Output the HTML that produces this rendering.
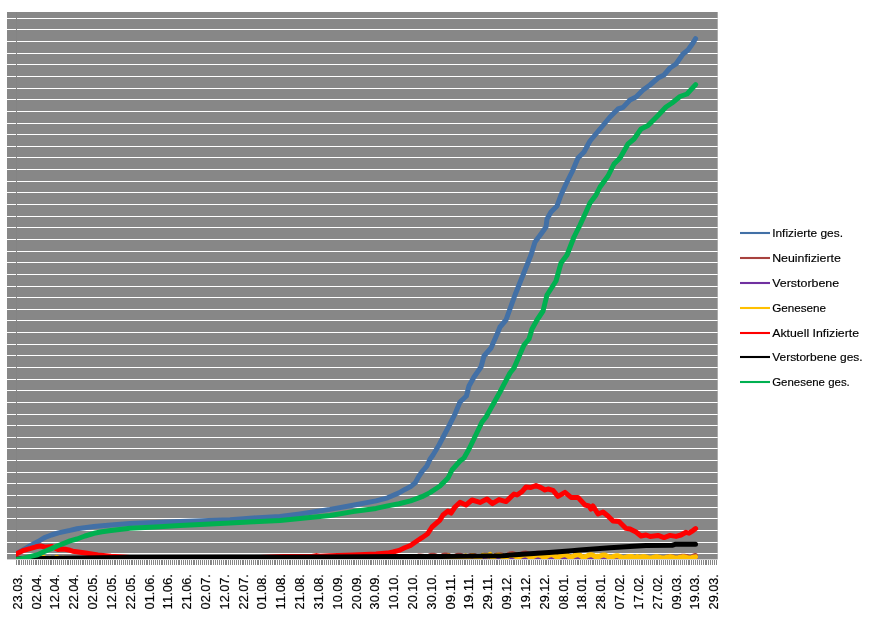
<!DOCTYPE html>
<html lang="de"><head><meta charset="utf-8"><title>Diagramm</title>
<style>html,body{margin:0;padding:0;background:#fff}body{width:870px;height:625px;overflow:hidden}</style></head>
<body>
<svg width="870" height="625" viewBox="0 0 870 625" style="display:block">
<rect width="870" height="625" fill="#fff"/>
<rect x="7" y="12" width="710.7" height="547.4" fill="#878787"/>
<path d="M7 18.50H717.7M7 29.50H717.7M7 41.50H717.7M7 53.50H717.7M7 64.50H717.7M7 76.50H717.7M7 88.50H717.7M7 99.50H717.7M7 111.50H717.7M7 123.50H717.7M7 134.50H717.7M7 146.50H717.7M7 157.50H717.7M7 169.50H717.7M7 181.50H717.7M7 192.50H717.7M7 204.50H717.7M7 216.50H717.7M7 227.50H717.7M7 239.50H717.7M7 251.50H717.7M7 262.50H717.7M7 274.50H717.7M7 286.50H717.7M7 297.50H717.7M7 309.50H717.7M7 320.50H717.7M7 332.50H717.7M7 344.50H717.7M7 355.50H717.7M7 367.50H717.7M7 379.50H717.7M7 390.50H717.7M7 402.50H717.7M7 414.50H717.7M7 425.50H717.7M7 437.50H717.7M7 448.50H717.7M7 460.50H717.7M7 472.50H717.7M7 483.50H717.7M7 495.50H717.7M7 507.50H717.7M7 518.50H717.7M7 530.50H717.7M7 542.50H717.7M7 553.50H717.7" stroke="#fff" stroke-width="1.1" fill="none"/>
<path d="M16.5 12V559" stroke="#848484" stroke-width="1" fill="none"/>
<path d="M16.5 560V565M18.5 560V565M19.5 560V565M21.5 560V565M23.5 560V565M25.5 560V565M27.5 560V565M29.5 560V565M31.5 560V565M33.5 560V565M35.5 560V565M36.5 560V565M38.5 560V565M40.5 560V565M42.5 560V565M44.5 560V565M46.5 560V565M48.5 560V565M50.5 560V565M51.5 560V565M53.5 560V565M55.5 560V565M57.5 560V565M59.5 560V565M61.5 560V565M63.5 560V565M65.5 560V565M67.5 560V565M68.5 560V565M70.5 560V565M72.5 560V565M74.5 560V565M76.5 560V565M78.5 560V565M80.5 560V565M82.5 560V565M83.5 560V565M85.5 560V565M87.5 560V565M89.5 560V565M91.5 560V565M93.5 560V565M95.5 560V565M97.5 560V565M99.5 560V565M100.5 560V565M102.5 560V565M104.5 560V565M106.5 560V565M108.5 560V565M110.5 560V565M112.5 560V565M114.5 560V565M115.5 560V565M117.5 560V565M119.5 560V565M121.5 560V565M123.5 560V565M125.5 560V565M127.5 560V565M129.5 560V565M131.5 560V565M132.5 560V565M134.5 560V565M136.5 560V565M138.5 560V565M140.5 560V565M142.5 560V565M144.5 560V565M146.5 560V565M147.5 560V565M149.5 560V565M151.5 560V565M153.5 560V565M155.5 560V565M157.5 560V565M159.5 560V565M161.5 560V565M162.5 560V565M164.5 560V565M166.5 560V565M168.5 560V565M170.5 560V565M172.5 560V565M174.5 560V565M176.5 560V565M178.5 560V565M179.5 560V565M181.5 560V565M183.5 560V565M185.5 560V565M187.5 560V565M189.5 560V565M191.5 560V565M193.5 560V565M194.5 560V565M196.5 560V565M198.5 560V565M200.5 560V565M202.5 560V565M204.5 560V565M206.5 560V565M208.5 560V565M210.5 560V565M211.5 560V565M213.5 560V565M215.5 560V565M217.5 560V565M219.5 560V565M221.5 560V565M223.5 560V565M225.5 560V565M226.5 560V565M228.5 560V565M230.5 560V565M232.5 560V565M234.5 560V565M236.5 560V565M238.5 560V565M240.5 560V565M242.5 560V565M243.5 560V565M245.5 560V565M247.5 560V565M249.5 560V565M251.5 560V565M253.5 560V565M255.5 560V565M257.5 560V565M258.5 560V565M260.5 560V565M262.5 560V565M264.5 560V565M266.5 560V565M268.5 560V565M270.5 560V565M272.5 560V565M274.5 560V565M275.5 560V565M277.5 560V565M279.5 560V565M281.5 560V565M283.5 560V565M285.5 560V565M287.5 560V565M289.5 560V565M290.5 560V565M292.5 560V565M294.5 560V565M296.5 560V565M298.5 560V565M300.5 560V565M302.5 560V565M304.5 560V565M306.5 560V565M307.5 560V565M309.5 560V565M311.5 560V565M313.5 560V565M315.5 560V565M317.5 560V565M319.5 560V565M321.5 560V565M322.5 560V565M324.5 560V565M326.5 560V565M328.5 560V565M330.5 560V565M332.5 560V565M334.5 560V565M336.5 560V565M338.5 560V565M339.5 560V565M341.5 560V565M343.5 560V565M345.5 560V565M347.5 560V565M349.5 560V565M351.5 560V565M353.5 560V565M354.5 560V565M356.5 560V565M358.5 560V565M360.5 560V565M362.5 560V565M364.5 560V565M366.5 560V565M368.5 560V565M370.5 560V565M371.5 560V565M373.5 560V565M375.5 560V565M377.5 560V565M379.5 560V565M381.5 560V565M383.5 560V565M385.5 560V565M386.5 560V565M388.5 560V565M390.5 560V565M392.5 560V565M394.5 560V565M396.5 560V565M398.5 560V565M400.5 560V565M402.5 560V565M403.5 560V565M405.5 560V565M407.5 560V565M409.5 560V565M411.5 560V565M413.5 560V565M415.5 560V565M417.5 560V565M418.5 560V565M420.5 560V565M422.5 560V565M424.5 560V565M426.5 560V565M428.5 560V565M430.5 560V565M432.5 560V565M434.5 560V565M435.5 560V565M437.5 560V565M439.5 560V565M441.5 560V565M443.5 560V565M445.5 560V565M447.5 560V565M449.5 560V565M450.5 560V565M452.5 560V565M454.5 560V565M456.5 560V565M458.5 560V565M460.5 560V565M462.5 560V565M464.5 560V565M465.5 560V565M467.5 560V565M469.5 560V565M471.5 560V565M473.5 560V565M475.5 560V565M477.5 560V565M479.5 560V565M481.5 560V565M482.5 560V565M484.5 560V565M486.5 560V565M488.5 560V565M490.5 560V565M492.5 560V565M494.5 560V565M496.5 560V565M497.5 560V565M499.5 560V565M501.5 560V565M503.5 560V565M505.5 560V565M507.5 560V565M509.5 560V565M511.5 560V565M513.5 560V565M514.5 560V565M516.5 560V565M518.5 560V565M520.5 560V565M522.5 560V565M524.5 560V565M526.5 560V565M528.5 560V565M529.5 560V565M531.5 560V565M533.5 560V565M535.5 560V565M537.5 560V565M539.5 560V565M541.5 560V565M543.5 560V565M545.5 560V565M546.5 560V565M548.5 560V565M550.5 560V565M552.5 560V565M554.5 560V565M556.5 560V565M558.5 560V565M560.5 560V565M561.5 560V565M563.5 560V565M565.5 560V565M567.5 560V565M569.5 560V565M571.5 560V565M573.5 560V565M575.5 560V565M577.5 560V565M578.5 560V565M580.5 560V565M582.5 560V565M584.5 560V565M586.5 560V565M588.5 560V565M590.5 560V565M592.5 560V565M593.5 560V565M595.5 560V565M597.5 560V565M599.5 560V565M601.5 560V565M603.5 560V565M605.5 560V565M607.5 560V565M609.5 560V565M610.5 560V565M612.5 560V565M614.5 560V565M616.5 560V565M618.5 560V565M620.5 560V565M622.5 560V565M624.5 560V565M625.5 560V565M627.5 560V565M629.5 560V565M631.5 560V565M633.5 560V565M635.5 560V565M637.5 560V565M639.5 560V565M641.5 560V565M642.5 560V565M644.5 560V565M646.5 560V565M648.5 560V565M650.5 560V565M652.5 560V565M654.5 560V565M656.5 560V565M657.5 560V565M659.5 560V565M661.5 560V565M663.5 560V565M665.5 560V565M667.5 560V565M669.5 560V565M671.5 560V565M673.5 560V565M674.5 560V565M676.5 560V565M678.5 560V565M680.5 560V565M682.5 560V565M684.5 560V565M686.5 560V565M688.5 560V565M689.5 560V565M691.5 560V565M693.5 560V565M695.5 560V565M697.5 560V565M699.5 560V565M701.5 560V565M703.5 560V565M705.5 560V565M706.5 560V565M708.5 560V565M710.5 560V565M712.5 560V565M714.5 560V565M716.5 560V565" stroke="#868686" stroke-width="1" fill="none" shape-rendering="crispEdges"/>
<clipPath id="pc"><rect x="16.0" y="12" width="701.7" height="547"/></clipPath>
<g clip-path="url(#pc)">
<polyline points="16.2,553.8 23.8,549.5 30.7,545.5 37.6,541.8 44.5,537.6 51.4,535 58.3,532.9 70,530.4 77,528.7 94,526.5 111,524.9 130,523.5 180,521.5 230,519.7 253.4,518 280,516.5 300,513.9 330,509.4 353,505.3 376,500.9 387.6,497.8 399,492.9 405,489.4 410.6,486.6 415.3,482.8 418.7,476.5 422.2,471.3 426.8,466.1 430,459.2 433,455 439,445 450,424 455,414 460,402 466.4,396 469,386 474,377 481,367 484,356 491,348 498,332 500,327 506,320 515,295 523,275 531,255 535,242 541,234 546,227 547,219 551,212 557,206 561,195 566,184 572,172 578,158 584,152 590,141 600,129 610,117 618,109 623,107.4 630,100 636,97 643,90 650,85 658,78 664,75 670,68 676,64 683,54 688,50 693,43 695.6,38.6" fill="none" stroke="#4270A6" stroke-width="5" stroke-linejoin="round" stroke-linecap="round"/>
<polyline points="17.1,558.9 19,558.81 20.9,558.37 22.8,558.18 24.6,558.11 26.5,558.26 28.4,558.6 30.3,558.8 32.2,558.76 34.1,558.39 35.9,558.33 37.8,558.39 39.7,558.55 41.6,558.83 43.5,558.99 45.4,558.99 47.3,558.78 49.1,558.77 51,558.82 52.9,558.9 54.8,559.06 56.7,559.15 58.6,559.14 60.4,559 62.3,558.98 64.2,559.01 66.1,559.08 68,559.19 69.9,559.25 71.7,559.24 73.6,559.15 75.5,559.13 77.4,559.14 79.3,559.17 81.2,559.24 83.1,559.28 84.9,559.28 86.8,559.21 88.7,559.19 90.6,559.2 92.5,559.23 94.4,559.28 96.2,559.32 98.1,559.31 100,559.26 101.9,559.25 103.8,559.25 105.7,559.26 107.6,559.3 109.4,559.32 111.3,559.32 113.2,559.26 115.1,559.25 117,559.25 118.9,559.26 120.7,559.3 122.6,559.32 124.5,559.31 126.4,559.26 128.3,559.24 130.2,559.24 132.1,559.26 133.9,559.3 135.8,559.32 137.7,559.31 139.6,559.26 141.5,559.24 143.4,559.24 145.2,559.25 147.1,559.29 149,559.32 150.9,559.31 152.8,559.25 154.7,559.24 156.5,559.24 158.4,559.25 160.3,559.29 162.2,559.32 164.1,559.31 166,559.25 167.9,559.23 169.7,559.23 171.6,559.25 173.5,559.29 175.4,559.32 177.3,559.31 179.2,559.25 181,559.23 182.9,559.23 184.8,559.25 186.7,559.29 188.6,559.31 190.5,559.31 192.4,559.24 194.2,559.23 196.1,559.23 198,559.24 199.9,559.29 201.8,559.31 203.7,559.3 205.5,559.24 207.4,559.22 209.3,559.22 211.2,559.24 213.1,559.28 215,559.31 216.9,559.3 218.7,559.24 220.6,559.22 222.5,559.22 224.4,559.24 226.3,559.28 228.2,559.31 230,559.3 231.9,559.24 233.8,559.22 235.7,559.22 237.6,559.23 239.5,559.28 241.3,559.31 243.2,559.3 245.1,559.23 247,559.21 248.9,559.21 250.8,559.23 252.7,559.28 254.5,559.31 256.4,559.3 258.3,559.23 260.2,559.21 262.1,559.21 264,559.23 265.8,559.28 267.7,559.3 269.6,559.29 271.5,559.23 273.4,559.21 275.3,559.21 277.2,559.23 279,559.27 280.9,559.3 282.8,559.29 284.7,559.22 286.6,559.2 288.5,559.2 290.3,559.22 292.2,559.27 294.1,559.3 296,559.29 297.9,559.22 299.8,559.2 301.7,559.19 303.5,559.2 305.4,559.25 307.3,559.28 309.2,559.26 311.1,559.17 313,559.14 314.8,559.13 316.7,559.14 318.6,559.21 320.5,559.25 322.4,559.23 324.3,559.11 326.1,559.07 328,559.06 329.9,559.09 331.8,559.17 333.7,559.22 335.6,559.19 337.5,559.05 339.3,559 341.2,558.99 343.1,559.01 345,559.11 346.9,559.17 348.8,559.13 350.6,558.94 352.5,558.87 354.4,558.86 356.3,558.89 358.2,559.02 360.1,559.1 362,559.06 363.8,558.83 365.7,558.74 367.6,558.72 369.5,558.77 371.4,558.94 373.3,559.03 375.1,558.99 377,558.71 378.9,558.61 380.8,558.57 382.7,558.6 384.6,558.78 386.5,558.89 388.3,558.8 390.2,558.36 392.1,558.18 394,558.11 395.9,558.18 397.8,558.48 399.6,558.66 401.5,558.49 403.4,557.74 405.3,557.37 407.2,557.18 409.1,557.23 410.9,557.71 412.8,558.01 414.7,557.77 416.6,556.56 418.5,556.05 420.4,555.9 422.3,556.13 424.1,556.96 426,557.45 427.9,557.19 429.8,555.7 431.7,555.25 433.6,555.21 435.4,555.59 437.3,556.63 439.2,557.25 441.1,557.01 443,555.46 444.9,555.02 446.8,555.05 448.6,555.52 450.5,556.62 452.4,557.28 454.3,557.09 456.2,555.65 458.1,555.27 459.9,555.31 461.8,555.75 463.7,556.79 465.6,557.41 467.5,557.23 469.4,555.88 471.3,555.48 473.1,555.44 475,555.81 476.9,556.78 478.8,557.37 480.7,557.15 482.6,555.68 484.4,555.23 486.3,555.2 488.2,555.59 490.1,556.62 492,557.25 493.9,557.01 495.7,555.46 497.6,554.94 499.5,554.75 501.4,555.04 503.3,556.13 505.2,556.79 507.1,556.43 508.9,554.37 510.8,553.67 512.7,553.59 514.6,554.11 516.5,555.53 518.4,556.39 520.2,556.04 522.1,553.84 524,553.15 525.9,553.08 527.8,553.64 529.7,555.19 531.6,556.13 533.4,555.79 535.3,553.65 537.2,553.19 539.1,553.36 541,554.12 542.9,555.7 544.7,556.64 546.6,556.4 548.5,554.56 550.4,554.08 552.3,554.14 554.2,554.73 556.1,556.06 557.9,556.87 559.8,556.65 561.7,554.98 563.6,554.58 565.5,554.67 567.4,555.23 569.2,556.45 571.1,557.18 573,557.01 574.9,555.57 576.8,555.24 578.7,555.33 580.5,555.83 582.4,556.89 584.3,557.53 586.2,557.4 588.1,556.24 590,556 591.9,556.11 593.7,556.54 595.6,557.41 597.5,557.93 599.4,557.84 601.3,556.93 603.2,556.73 605,556.8 606.9,557.13 608.8,557.81 610.7,558.21 612.6,558.14 614.5,557.4 616.4,557.25 618.2,557.33 620.1,557.6 622,558.11 623.9,558.42 625.8,558.33 627.7,557.67 629.5,557.5 631.4,557.51 633.3,557.72 635.2,558.2 637.1,558.49 639,558.4 640.9,557.76 642.7,557.55 644.6,557.51 646.5,557.66 648.4,558.12 650.3,558.4 652.2,558.28 654,557.53 655.9,557.28 657.8,557.24 659.7,557.43 661.6,557.93 663.5,558.23 665.3,558.07 667.2,557.16 669.1,556.84 671,556.76 672.9,556.96 674.8,557.59 676.7,557.97 678.5,557.78 680.4,556.68 682.3,556.27 684.2,556.16 686.1,556.39 688,557.16 689.8,557.62 691.7,557.39 693.6,556.01 695.5,555.53" fill="none" stroke="#A8423E" stroke-width="5" stroke-linejoin="round" stroke-linecap="round"/>
<polyline points="17.1,559.4 19,559.4 20.9,559.39 22.8,559.38 24.6,559.37 26.5,559.37 28.4,559.37 30.3,559.38 32.2,559.37 34.1,559.36 35.9,559.35 37.8,559.35 39.7,559.36 41.6,559.37 43.5,559.38 45.4,559.37 47.3,559.36 49.1,559.35 51,559.35 52.9,559.36 54.8,559.37 56.7,559.38 58.6,559.37 60.4,559.36 62.3,559.35 64.2,559.35 66.1,559.36 68,559.37 69.9,559.38 71.7,559.37 73.6,559.36 75.5,559.35 77.4,559.35 79.3,559.36 81.2,559.37 83.1,559.38 84.9,559.37 86.8,559.36 88.7,559.35 90.6,559.35 92.5,559.36 94.4,559.37 96.2,559.38 98.1,559.38 100,559.36 101.9,559.36 103.8,559.36 105.7,559.36 107.6,559.37 109.4,559.38 111.3,559.38 113.2,559.36 115.1,559.36 117,559.36 118.9,559.36 120.7,559.37 122.6,559.38 124.5,559.38 126.4,559.36 128.3,559.36 130.2,559.36 132.1,559.36 133.9,559.37 135.8,559.38 137.7,559.38 139.6,559.36 141.5,559.36 143.4,559.36 145.2,559.36 147.1,559.37 149,559.38 150.9,559.38 152.8,559.36 154.7,559.36 156.5,559.36 158.4,559.36 160.3,559.37 162.2,559.38 164.1,559.38 166,559.36 167.9,559.36 169.7,559.36 171.6,559.37 173.5,559.38 175.4,559.38 177.3,559.38 179.2,559.37 181,559.36 182.9,559.36 184.8,559.37 186.7,559.38 188.6,559.38 190.5,559.38 192.4,559.37 194.2,559.36 196.1,559.36 198,559.37 199.9,559.38 201.8,559.38 203.7,559.38 205.5,559.37 207.4,559.36 209.3,559.36 211.2,559.37 213.1,559.38 215,559.38 216.9,559.38 218.7,559.37 220.6,559.37 222.5,559.37 224.4,559.37 226.3,559.38 228.2,559.38 230,559.38 231.9,559.37 233.8,559.37 235.7,559.37 237.6,559.37 239.5,559.38 241.3,559.38 243.2,559.38 245.1,559.37 247,559.37 248.9,559.37 250.8,559.37 252.7,559.38 254.5,559.38 256.4,559.38 258.3,559.37 260.2,559.37 262.1,559.37 264,559.37 265.8,559.38 267.7,559.38 269.6,559.38 271.5,559.37 273.4,559.37 275.3,559.37 277.2,559.37 279,559.38 280.9,559.39 282.8,559.38 284.7,559.37 286.6,559.37 288.5,559.37 290.3,559.37 292.2,559.38 294.1,559.39 296,559.38 297.9,559.37 299.8,559.37 301.7,559.37 303.5,559.37 305.4,559.38 307.3,559.39 309.2,559.38 311.1,559.38 313,559.37 314.8,559.37 316.7,559.38 318.6,559.38 320.5,559.39 322.4,559.39 324.3,559.38 326.1,559.37 328,559.37 329.9,559.38 331.8,559.38 333.7,559.39 335.6,559.39 337.5,559.38 339.3,559.38 341.2,559.38 343.1,559.38 345,559.38 346.9,559.39 348.8,559.39 350.6,559.38 352.5,559.38 354.4,559.38 356.3,559.38 358.2,559.38 360.1,559.39 362,559.39 363.8,559.38 365.7,559.38 367.6,559.38 369.5,559.38 371.4,559.39 373.3,559.39 375.1,559.39 377,559.38 378.9,559.38 380.8,559.38 382.7,559.38 384.6,559.39 386.5,559.39 388.3,559.39 390.2,559.38 392.1,559.38 394,559.38 395.9,559.38 397.8,559.39 399.6,559.39 401.5,559.39 403.4,559.38 405.3,559.38 407.2,559.38 409.1,559.38 410.9,559.38 412.8,559.39 414.7,559.39 416.6,559.38 418.5,559.37 420.4,559.37 422.3,559.37 424.1,559.38 426,559.38 427.9,559.38 429.8,559.37 431.7,559.37 433.6,559.37 435.4,559.37 437.3,559.38 439.2,559.38 441.1,559.38 443,559.37 444.9,559.36 446.8,559.36 448.6,559.36 450.5,559.37 452.4,559.38 454.3,559.38 456.2,559.36 458.1,559.36 459.9,559.35 461.8,559.36 463.7,559.37 465.6,559.38 467.5,559.37 469.4,559.36 471.3,559.35 473.1,559.34 475,559.35 476.9,559.36 478.8,559.37 480.7,559.36 482.6,559.33 484.4,559.32 486.3,559.32 488.2,559.32 490.1,559.34 492,559.35 493.9,559.35 495.7,559.31 497.6,559.29 499.5,559.29 501.4,559.3 503.3,559.32 505.2,559.34 507.1,559.33 508.9,559.28 510.8,559.27 512.7,559.26 514.6,559.27 516.5,559.31 518.4,559.33 520.2,559.32 522.1,559.26 524,559.24 525.9,559.24 527.8,559.26 529.7,559.29 531.6,559.32 533.4,559.31 535.3,559.25 537.2,559.23 539.1,559.23 541,559.24 542.9,559.28 544.7,559.31 546.6,559.3 548.5,559.23 550.4,559.21 552.3,559.21 554.2,559.23 556.1,559.27 557.9,559.3 559.8,559.29 561.7,559.22 563.6,559.21 565.5,559.21 567.4,559.23 569.2,559.28 571.1,559.31 573,559.3 574.9,559.24 576.8,559.23 578.7,559.23 580.5,559.25 582.4,559.29 584.3,559.32 586.2,559.31 588.1,559.26 590,559.25 591.9,559.25 593.7,559.27 595.6,559.31 597.5,559.33 599.4,559.33 601.3,559.28 603.2,559.27 605,559.28 606.9,559.29 608.8,559.32 610.7,559.34 612.6,559.34 614.5,559.3 616.4,559.29 618.2,559.3 620.1,559.31 622,559.34 623.9,559.35 625.8,559.35 627.7,559.31 629.5,559.31 631.4,559.31 633.3,559.32 635.2,559.34 637.1,559.36 639,559.35 640.9,559.32 642.7,559.31 644.6,559.32 646.5,559.33 648.4,559.35 650.3,559.36 652.2,559.36 654,559.33 655.9,559.32 657.8,559.32 659.7,559.33 661.6,559.35 663.5,559.36 665.3,559.36 667.2,559.34 669.1,559.33 671,559.33 672.9,559.34 674.8,559.36 676.7,559.37 678.5,559.37 680.4,559.35 682.3,559.34 684.2,559.34 686.1,559.35 688,559.36 689.8,559.37 691.7,559.37 693.6,559.35 695.5,559.35" fill="none" stroke="#7030A0" stroke-width="5" stroke-linejoin="round" stroke-linecap="round"/>
<polyline points="17.1,559.4 19,559.39 20.9,559.38 22.8,559.37 24.6,559.35 26.5,559.35 28.4,559.36 30.3,559.36 32.2,559.34 34.1,559.31 35.9,559.29 37.8,559 39.7,558.83 41.6,558.85 43.5,557.26 45.4,558.73 47.3,558.5 49.1,558.37 51,558.37 52.9,558.54 54.8,558.81 56.7,557.26 58.6,558.73 60.4,558.5 62.3,558.37 64.2,558.37 66.1,558.54 68,558.81 69.9,558.86 71.7,558.75 73.6,558.56 75.5,558.47 77.4,558.51 79.3,558.69 81.2,558.94 83.1,558.99 84.9,558.91 86.8,558.78 88.7,558.72 90.6,558.76 92.5,558.9 94.4,559.08 96.2,559.12 98.1,559.08 100,559 101.9,558.95 103.8,558.96 105.7,559.05 107.6,559.16 109.4,559.19 111.3,559.14 113.2,559.07 115.1,559.03 117,559.04 118.9,559.11 120.7,559.21 122.6,559.23 124.5,559.19 126.4,559.13 128.3,559.1 130.2,559.11 132.1,559.17 133.9,559.25 135.8,559.27 137.7,559.24 139.6,559.2 141.5,559.17 143.4,559.17 145.2,559.21 147.1,559.27 149,559.28 150.9,559.25 152.8,559.19 154.7,559.16 156.5,559.16 158.4,559.2 160.3,559.26 162.2,559.27 164.1,559.24 166,559.19 167.9,559.16 169.7,559.16 171.6,559.2 173.5,559.26 175.4,559.27 177.3,559.24 179.2,559.18 181,559.15 182.9,559.15 184.8,559.19 186.7,559.26 188.6,559.27 190.5,559.23 192.4,559.18 194.2,559.14 196.1,559.14 198,559.19 199.9,559.25 201.8,559.26 203.7,559.23 205.5,559.17 207.4,559.14 209.3,559.14 211.2,559.18 213.1,559.25 215,559.26 216.9,559.23 218.7,559.17 220.6,559.13 222.5,559.13 224.4,559.18 226.3,559.25 228.2,559.26 230,559.22 231.9,559.16 233.8,559.13 235.7,559.12 237.6,559.17 239.5,559.24 241.3,559.25 243.2,559.22 245.1,559.16 247,559.12 248.9,559.12 250.8,559.17 252.7,559.24 254.5,559.25 256.4,559.21 258.3,559.15 260.2,559.11 262.1,559.11 264,559.16 265.8,559.24 267.7,559.25 269.6,559.21 271.5,559.15 273.4,559.11 275.3,559.11 277.2,559.16 279,559.23 280.9,559.24 282.8,559.21 284.7,559.14 286.6,559.1 288.5,559.1 290.3,559.15 292.2,559.23 294.1,559.24 296,559.2 297.9,559.13 299.8,559.09 301.7,559.09 303.5,559.15 305.4,559.23 307.3,559.24 309.2,559.2 311.1,559.13 313,559.09 314.8,559.09 316.7,559.14 318.6,559.22 320.5,559.23 322.4,559.19 324.3,559.12 326.1,559.08 328,559.08 329.9,559.13 331.8,559.22 333.7,559.23 335.6,559.19 337.5,559.12 339.3,559.07 341.2,559.07 343.1,559.13 345,559.21 346.9,559.23 348.8,559.18 350.6,559.11 352.5,559.07 354.4,559.07 356.3,559.12 358.2,559.21 360.1,559.22 362,559.18 363.8,559.11 365.7,559.06 367.6,559.06 369.5,559.12 371.4,559.21 373.3,559.22 375.1,559.18 377,559.1 378.9,559.06 380.8,559.04 382.7,559.08 384.6,559.17 386.5,559.17 388.3,559.1 390.2,558.97 392.1,558.88 394,558.85 395.9,558.93 397.8,559.06 399.6,559.07 401.5,558.97 403.4,558.81 405.3,558.69 407.2,558.66 409.1,558.77 410.9,558.95 412.8,558.97 414.7,558.85 416.6,558.64 418.5,558.5 420.4,558.46 422.3,558.53 424.1,558.75 426,558.74 427.9,558.5 429.8,558.11 431.7,557.81 433.6,557.7 435.4,557.91 437.3,558.32 439.2,558.34 441.1,558.02 443,557.48 444.9,557.11 446.8,557.02 448.6,555.96 450.5,557.96 452.4,558.02 454.3,557.62 456.2,556.95 458.1,556.5 459.9,556.41 461.8,556.88 463.7,557.65 465.6,555.75 467.5,557.3 469.4,556.55 471.3,556.06 473.1,556.01 475,556.55 476.9,557.42 478.8,557.54 480.7,557.04 482.6,555.2 484.4,555.66 486.3,555.6 488.2,556.22 490.1,554.39 492,557.34 493.9,556.81 495.7,555.92 497.6,555.37 499.5,555.34 501.4,556.03 503.3,557.07 505.2,557.24 507.1,556.68 508.9,555.75 510.8,555.17 512.7,555.14 514.6,555.86 516.5,556.96 518.4,557.13 520.2,556.55 522.1,555.59 524,555 525.9,554.98 527.8,555.74 529.7,556.89 531.6,557.07 533.4,556.48 535.3,555.5 537.2,554.9 539.1,554.88 541,555.66 542.9,556.83 544.7,557.02 546.6,556.42 548.5,555.41 550.4,554.8 552.3,554.8 554.2,555.6 556.1,556.8 557.9,557 559.8,556.4 561.7,555.4 563.6,554.8 565.5,554.8 567.4,555.6 569.2,556.8 571.1,557 573,556.4 574.9,555.4 576.8,554.8 578.7,554.8 580.5,555.6 582.4,556.8 584.3,557 586.2,556.4 588.1,555.4 590,554.8 591.9,554.8 593.7,555.6 595.6,556.8 597.5,556.2 599.4,556.4 601.3,555.47 603.2,554.99 605,555.11 606.9,555.95 608.8,557.11 610.7,557.34 612.6,556.9 614.5,556.17 616.4,555.78 618.2,555.87 620.1,556.55 622,557.5 623.9,557.69 625.8,557.32 627.7,556.71 629.5,556.39 631.4,556.43 633.3,556.97 635.2,557.76 637.1,556.6 639,557.54 640.9,556.94 642.7,556.61 644.6,556.63 646.5,557.14 648.4,557.87 650.3,558 652.2,557.67 654,557.12 655.9,556.81 657.8,556.84 659.7,557.31 661.6,557.97 663.5,558.08 665.3,557.75 667.2,557.2 669.1,556.87 671,556.87 672.9,557.31 674.8,557.97 676.7,558.08 678.5,557.75 680.4,557.2 682.3,556.87 684.2,556.87 686.1,557.31 688,557.97 689.8,558.08 691.7,557.75 693.6,557.2 695.5,556.87" fill="none" stroke="#FFC000" stroke-width="5" stroke-linejoin="round" stroke-linecap="round"/>
<polyline points="16.2,554 23.8,550.3 30.7,548.4 36,546.8 40.3,546 44,546.8 47,547 51.4,546.4 55,548 58,549.5 62,549 65.2,549.3 70,550.3 72.7,551.2 85.5,553 98,554.9 111,556.2 126,557.2 145,558.4 240,558.4 284,556.6 300,556.5 312,556.5 316.4,555.6 320,556.3 330,555.7 353,554.9 376,554 387.5,553.1 393,552 399,550.4 404.7,547.8 410.5,545.5 416.2,541.5 422,537.7 427.7,533.7 432,527 440,520 443,515 448,511 451,513 455,507 460,502.4 466,505 472,500 480,502.4 487,499 492.4,503.6 499,499.6 506,501.6 514,494 517,495 522,491.6 526,487 531,487.4 536,485.6 541,487.6 545,490 548,489 553,490.4 558,496.4 565,492.4 571,497.4 578,497.4 585,505 589,506 591,509 593,506 598,514 603,512 608,516 613,521 619,521.4 626,528.4 630,529 636,532 641,536 646,535 650,536.4 658,535.4 664,537.6 670,535.4 676,536.4 681,535 686,532.3 689,533.2 693,530.6 695.6,528.6" fill="none" stroke="#FF0000" stroke-width="5" stroke-linejoin="round" stroke-linecap="round"/>
<polyline points="16.2,559.3 30,558.8 45,558.4 100,557.8 130,557.4 230,557.2 330,557.1 400,556.6 440,556.4 480,556.1 503,555.7 526,554.1 549,552.5 572,550.7 580,550 590,549.2 610,547.8 630,546.4 646,545.6 672,545.3 675,544.3 695.5,544.3" fill="none" stroke="#000000" stroke-width="5" stroke-linejoin="round" stroke-linecap="round"/>
<polyline points="16.2,559.7 24,558.2 30.7,556.4 37.6,554.8 44.5,551.5 51.4,548.6 58.3,545.5 65.2,542.8 70,540.9 77,539 85,536 94,533.3 102,531.8 111,530.6 130,528.3 155,527 180,525.6 205,524.3 230,522.9 253.4,521.8 280,520.5 300,518.6 330,515.5 353,511.6 376,508.4 387.6,505.9 399,503.8 410.6,500.9 422,496.7 430,492.6 440,486 448,478 452,470 460,461 464,458 469,449 471,445 482,422 486,417 500,392 510,373 514,368 524,345 529,339 532,329 537,320 543,311 547,295 556,281 561,263 567,255 574,237 580,225 586,212 590,203 596,195 600,187 608,176 614,164 620,158 628,144 634,139 641,129 648,125.5 658,115.5 666,107 672,103 680,96.5 687,94 695.6,84.6" fill="none" stroke="#00B050" stroke-width="5" stroke-linejoin="round" stroke-linecap="round"/>
</g>
<g font-family="'Liberation Sans', sans-serif" font-size="12.4" fill="#000" stroke="#000" stroke-width="0.2">
<text transform="translate(21.80 609.4) rotate(-90)" textLength="35.3" lengthAdjust="spacingAndGlyphs">23.03.</text>
<text transform="translate(40.62 609.4) rotate(-90)" textLength="35.3" lengthAdjust="spacingAndGlyphs">02.04.</text>
<text transform="translate(59.44 609.4) rotate(-90)" textLength="35.3" lengthAdjust="spacingAndGlyphs">12.04.</text>
<text transform="translate(78.26 609.4) rotate(-90)" textLength="35.3" lengthAdjust="spacingAndGlyphs">22.04.</text>
<text transform="translate(97.08 609.4) rotate(-90)" textLength="35.3" lengthAdjust="spacingAndGlyphs">02.05.</text>
<text transform="translate(115.90 609.4) rotate(-90)" textLength="35.3" lengthAdjust="spacingAndGlyphs">12.05.</text>
<text transform="translate(134.72 609.4) rotate(-90)" textLength="35.3" lengthAdjust="spacingAndGlyphs">22.05.</text>
<text transform="translate(153.54 609.4) rotate(-90)" textLength="35.3" lengthAdjust="spacingAndGlyphs">01.06.</text>
<text transform="translate(172.36 609.4) rotate(-90)" textLength="35.3" lengthAdjust="spacingAndGlyphs">11.06.</text>
<text transform="translate(191.18 609.4) rotate(-90)" textLength="35.3" lengthAdjust="spacingAndGlyphs">21.06.</text>
<text transform="translate(210.00 609.4) rotate(-90)" textLength="35.3" lengthAdjust="spacingAndGlyphs">02.07.</text>
<text transform="translate(228.82 609.4) rotate(-90)" textLength="35.3" lengthAdjust="spacingAndGlyphs">12.07.</text>
<text transform="translate(247.64 609.4) rotate(-90)" textLength="35.3" lengthAdjust="spacingAndGlyphs">22.07.</text>
<text transform="translate(266.46 609.4) rotate(-90)" textLength="35.3" lengthAdjust="spacingAndGlyphs">01.08.</text>
<text transform="translate(285.28 609.4) rotate(-90)" textLength="35.3" lengthAdjust="spacingAndGlyphs">11.08.</text>
<text transform="translate(304.10 609.4) rotate(-90)" textLength="35.3" lengthAdjust="spacingAndGlyphs">21.08.</text>
<text transform="translate(322.92 609.4) rotate(-90)" textLength="35.3" lengthAdjust="spacingAndGlyphs">31.08.</text>
<text transform="translate(341.74 609.4) rotate(-90)" textLength="35.3" lengthAdjust="spacingAndGlyphs">10.09.</text>
<text transform="translate(360.56 609.4) rotate(-90)" textLength="35.3" lengthAdjust="spacingAndGlyphs">20.09.</text>
<text transform="translate(379.38 609.4) rotate(-90)" textLength="35.3" lengthAdjust="spacingAndGlyphs">30.09.</text>
<text transform="translate(398.20 609.4) rotate(-90)" textLength="35.3" lengthAdjust="spacingAndGlyphs">10.10.</text>
<text transform="translate(417.02 609.4) rotate(-90)" textLength="35.3" lengthAdjust="spacingAndGlyphs">20.10.</text>
<text transform="translate(435.84 609.4) rotate(-90)" textLength="35.3" lengthAdjust="spacingAndGlyphs">30.10.</text>
<text transform="translate(454.66 609.4) rotate(-90)" textLength="35.3" lengthAdjust="spacingAndGlyphs">09.11.</text>
<text transform="translate(473.48 609.4) rotate(-90)" textLength="35.3" lengthAdjust="spacingAndGlyphs">19.11.</text>
<text transform="translate(492.30 609.4) rotate(-90)" textLength="35.3" lengthAdjust="spacingAndGlyphs">29.11.</text>
<text transform="translate(511.12 609.4) rotate(-90)" textLength="35.3" lengthAdjust="spacingAndGlyphs">09.12.</text>
<text transform="translate(529.94 609.4) rotate(-90)" textLength="35.3" lengthAdjust="spacingAndGlyphs">19.12.</text>
<text transform="translate(548.76 609.4) rotate(-90)" textLength="35.3" lengthAdjust="spacingAndGlyphs">29.12.</text>
<text transform="translate(567.58 609.4) rotate(-90)" textLength="35.3" lengthAdjust="spacingAndGlyphs">08.01.</text>
<text transform="translate(586.40 609.4) rotate(-90)" textLength="35.3" lengthAdjust="spacingAndGlyphs">18.01.</text>
<text transform="translate(605.22 609.4) rotate(-90)" textLength="35.3" lengthAdjust="spacingAndGlyphs">28.01.</text>
<text transform="translate(624.04 609.4) rotate(-90)" textLength="35.3" lengthAdjust="spacingAndGlyphs">07.02.</text>
<text transform="translate(642.86 609.4) rotate(-90)" textLength="35.3" lengthAdjust="spacingAndGlyphs">17.02.</text>
<text transform="translate(661.68 609.4) rotate(-90)" textLength="35.3" lengthAdjust="spacingAndGlyphs">27.02.</text>
<text transform="translate(680.50 609.4) rotate(-90)" textLength="35.3" lengthAdjust="spacingAndGlyphs">09.03.</text>
<text transform="translate(699.32 609.4) rotate(-90)" textLength="35.3" lengthAdjust="spacingAndGlyphs">19.03.</text>
<text transform="translate(718.14 609.4) rotate(-90)" textLength="35.3" lengthAdjust="spacingAndGlyphs">29.03.</text>
</g>
<g font-family="'Liberation Sans', sans-serif" font-size="11.3" fill="#000" stroke="#000" stroke-width="0.15">
<path d="M740 233.00H770" stroke="#4270A6" stroke-width="2.1"/>
<text x="772.2" y="237" textLength="70.8" lengthAdjust="spacingAndGlyphs">Infizierte ges.</text>
<path d="M740 258.00H770" stroke="#A8423E" stroke-width="2.1"/>
<text x="772.2" y="262" textLength="68.7" lengthAdjust="spacingAndGlyphs">Neuinfizierte</text>
<path d="M740 283.00H770" stroke="#7030A0" stroke-width="2.1"/>
<text x="772.2" y="287" textLength="67" lengthAdjust="spacingAndGlyphs">Verstorbene</text>
<path d="M740 308.00H770" stroke="#FFC000" stroke-width="2.1"/>
<text x="772.2" y="312" textLength="53.9" lengthAdjust="spacingAndGlyphs">Genesene</text>
<path d="M740 333.00H770" stroke="#FF0000" stroke-width="2.1"/>
<text x="772.2" y="337" textLength="86.9" lengthAdjust="spacingAndGlyphs">Aktuell Infizierte</text>
<path d="M740 357.00H770" stroke="#000000" stroke-width="2.1"/>
<text x="772.2" y="361" textLength="90.4" lengthAdjust="spacingAndGlyphs">Verstorbene ges.</text>
<path d="M740 382.00H770" stroke="#00B050" stroke-width="2.1"/>
<text x="772.2" y="386" textLength="77.6" lengthAdjust="spacingAndGlyphs">Genesene ges.</text>
</g>
</svg>
</body></html>
